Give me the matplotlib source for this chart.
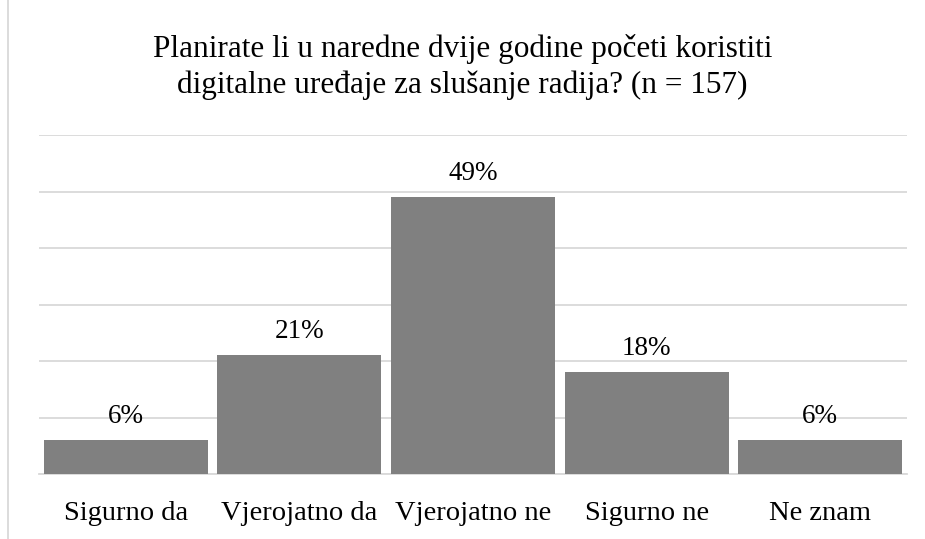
import matplotlib.pyplot as plt
import matplotlib.lines as mlines

# answer categories and share of respondents (%)
categories = ["Sigurno da", "Vjerojatno da", "Vjerojatno ne", "Sigurno ne", "Ne znam"]
values = [6, 21, 49, 18, 6]
value_labels = ["6%", "21%", "49%", "18%", "6%"]
title = "Planirate li u naredne dvije godine početi koristiti\ndigitalne uređaje za slušanje radija? (n = 157)"

plt.rcParams['font.family'] = ['Liberation Serif', 'DejaVu Serif']

fig = plt.figure(figsize=(9.25, 5.39), dpi=100)
ax = fig.add_axes([0.0422, 0.1206, 0.9383, 0.6289])

x = range(len(categories))
bars = ax.bar(x, values, width=0.945, color="#808080", zorder=3)

ax.set_ylim(0, 60)
ax.set_xlim(-0.5, len(categories) - 0.5)
ax.set_yticks(range(0, 61, 10))
ax.yaxis.grid(True, color="#d9d9d9", linewidth=1.3, zorder=0)
ax.tick_params(axis="y", left=False, labelleft=False)
ax.tick_params(axis="x", bottom=False, labelsize=20.5, pad=16, colors="black")
ax.set_xticks(list(x))
ax.set_xticklabels(categories)
for s in ["top", "right", "left"]:
    ax.spines[s].set_visible(False)
ax.spines["bottom"].set_color("#d9d9d9")
ax.spines["bottom"].set_linewidth(1.3)

for b, lab in zip(bars, value_labels):
    ax.annotate(lab, (b.get_x() + b.get_width() / 2, b.get_height()),
                xytext=(0, 8), textcoords="offset points",
                ha="center", va="bottom", fontsize=19.5)

fig.text(0.5, 0.875, title, ha="center", va="center", fontsize=22.5, linespacing=1.3)

# chart frame on the left edge
fig.add_artist(mlines.Line2D([8 / 925, 8 / 925], [0, 1], color="#d9d9d9", linewidth=1.3))

fig.savefig("out.png", dpi=100)
